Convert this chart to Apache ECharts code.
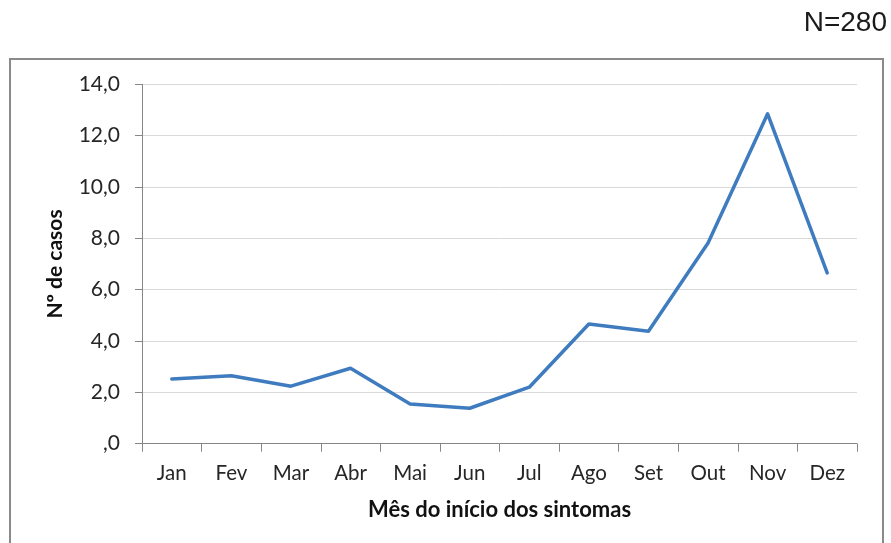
<!DOCTYPE html>
<html>
<head>
<meta charset="utf-8">
<script src="https://cdn.jsdelivr.net/npm/echarts@6/dist/echarts.min.js"></script>
<style>
html,body{margin:0;padding:0;background:#fff;}
#chart{width:891px;height:543px;}
</style>
</head>
<body>
<div id="chart"></div>
<script>
const months = ['Jan','Fev','Mar','Abr','Mai','Jun','Jul','Ago','Set','Out','Nov','Dez'];
const casos = [2.52, 2.65, 2.24, 2.94, 1.55, 1.38, 2.20, 4.66, 4.38, 7.82, 12.85, 6.65];
const yTicks = [0, 2, 4, 6, 8, 10, 12, 14];

const chart = echarts.init(document.getElementById('chart'), null, {renderer: 'canvas'});
const labelFont = 'Lato, "Open Sans", sans-serif';
chart.setOption({
  animation: false,
  backgroundColor: '#ffffff',
  graphic: [
    {type: 'rect', shape: {x: 10, y: 59, width: 873, height: 600}, style: {fill: 'none', stroke: '#8a8a8a', lineWidth: 2}, z: -1},
    {type: 'text', right: 4, top: 9, style: {text: 'N=280', font: '28px "Liberation Sans", Arial, sans-serif', fill: '#1a1a1a'}}
  ],
  grid: {left: 142, right: 34, top: 84.3, bottom: 99.3},
  xAxis: {
    type: 'category',
    data: months,
    boundaryGap: true,
    name: 'Mês do início dos sintomas',
    nameLocation: 'middle',
    nameGap: 55,
    nameTextStyle: {fontFamily: labelFont, fontWeight: 'bold', fontSize: 22, color: '#111111'},
    axisLine: {show: true, lineStyle: {color: '#868686', width: 1}},
    axisTick: {show: true, length: 8, interval: 0, lineStyle: {color: '#868686'}},
    axisLabel: {fontFamily: labelFont, fontSize: 20.5, color: '#262626', margin: 19, interval: 0}
  },
  yAxis: {
    type: 'value',
    min: 0, max: 14, interval: 2,
    name: 'Nº de casos',
    nameLocation: 'middle',
    nameGap: 76,
    nameTextStyle: {fontFamily: labelFont, fontWeight: 'bold', fontSize: 21, color: '#111111'},
    axisLine: {show: true, lineStyle: {color: '#868686', width: 1}},
    axisTick: {show: true, length: 7, lineStyle: {color: '#868686'}},
    splitLine: {show: true, lineStyle: {color: '#d9d9d9', width: 1}},
    axisLabel: {
      fontFamily: labelFont, fontSize: 21, color: '#262626', margin: 22,
      formatter: function (v) { return yTicks.indexOf(v) >= 0 ? (v === 0 ? ',0' : v.toFixed(1).replace('.', ',')) : ''; }
    }
  },
  series: [{
    type: 'line',
    data: casos,
    symbol: 'none',
    lineStyle: {color: '#3f7cbf', width: 3.5, cap: 'round', join: 'round'}
  }]
});
</script>
</body>
</html>
